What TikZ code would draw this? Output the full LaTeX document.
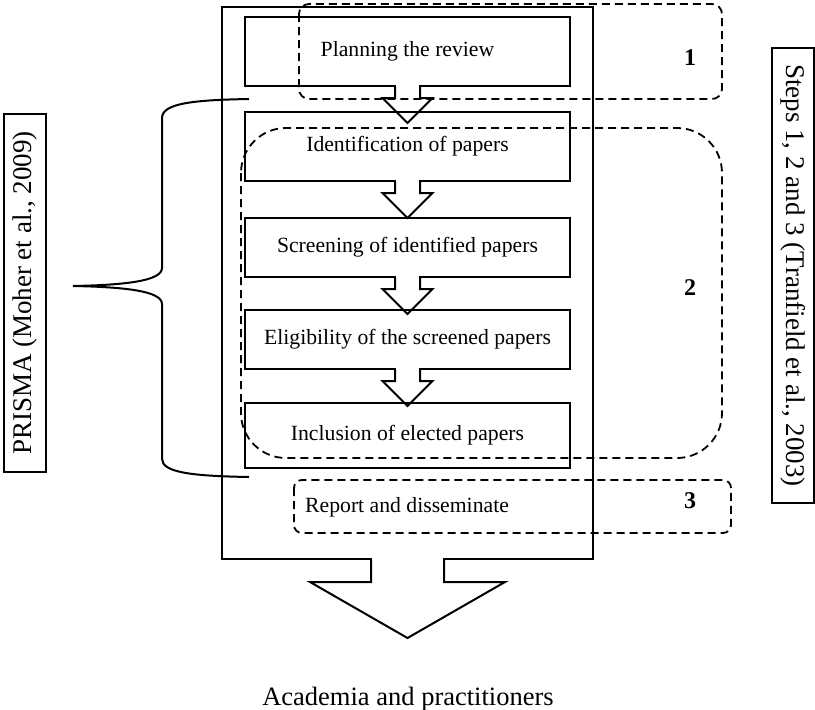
\documentclass[tikz,border=0pt]{standalone}
\usepackage{fontspec}
\setmainfont{Liberation Serif}
\usetikzlibrary{calc}

\tikzset{
  stepbox/.style={draw, line width=2pt, minimum width=325pt, inner sep=0pt, font=\fontsize{21.7}{26}\selectfont},
  group/.style={draw, line width=1.8pt, dash pattern=on 8pt off 5pt},
  sidebox/.style={draw, line width=1.5pt, minimum height=42pt, inner sep=0pt, font=\fontsize{27}{32}\selectfont},
  stepno/.style={inner sep=0pt, font=\fontsize{24}{28}\selectfont\bfseries},
}

\begin{document}
\begin{tikzpicture}[x=1pt, y=-1pt]
\useasboundingbox (0,0) rectangle (815,710);

\node[draw, line width=2pt, minimum width=371pt, minimum height=552pt] (outer) at (407.5,283) {};

\node[stepbox, minimum height=69pt] (plan) at (407.5,51.5) {Planning the review};
\node[stepbox, minimum height=69pt] (ident) at (407.5,146.5) {Identification of papers};
\node[stepbox, minimum height=59pt] (screen) at (407.5,247.5) {Screening of identified papers};
\node[stepbox, minimum height=59pt] (elig) at (407.5,339.5) {Eligibility of the screened papers};
\node[stepbox, minimum height=65pt] (incl) at (407.5,435.5) {Inclusion of elected papers};

% arrows between the steps
\foreach \b in {plan,ident,screen,elig} {
  \fill[white] ($(\b.south)+(-11.5,-2)$) rectangle ($(\b.south)+(11.5,2)$);
  \draw[line width=2pt] ($(\b.south)+(-12.5,0)$) -- ++(0,11) -- ++(-12.5,0) -- ++(25,25) -- ++(25,-25) -- ++(-12.5,0) -- ++(0,-11);
}

% big arrow out
\fill[white] ($(outer.south)+(-35.5,-2)$) rectangle ($(outer.south)+(35.5,2)$);
\draw[line width=2pt] ($(outer.south)+(-36.5,0)$) -- ++(0,22) -- ++(-61,0) -- ++(97.5,56) -- ++(97.5,-56) -- ++(-61,0) -- ++(0,-22);

\node[anchor=base, inner sep=0pt, font=\fontsize{26.5}{30}\selectfont] (target) at (408,705) {Academia and practitioners};

% the three steps
\draw[group, rounded corners=10pt] (299,4) rectangle (722,99);
\draw[group, rounded corners=45pt] (241,128) rectangle (722,458);
\draw[group, rounded corners=8pt] (294,480) rectangle (731,533);

\node[anchor=west, inner sep=0pt, font=\fontsize{21.7}{26}\selectfont] (report) at (305,507) {Report and disseminate};

\node[stepno] (n1) at (690,58) {1};
\node[stepno] (n2) at (690,288) {2};
\node[stepno] (n3) at (690,501) {3};

% brace
\draw[line width=2pt] (249,99) .. controls (195,100) and (162,103) .. (162,118) -- (162,268)
  .. controls (162,281) and (125,285) .. (73,286)
  .. controls (125,287) and (162,291) .. (162,304) -- (162,459)
  .. controls (162,473) and (195,476) .. (249,477);

\node[sidebox, rotate=90, minimum width=358pt] (prisma) at (25,293) {PRISMA (Moher et al., 2009)};
\node[sidebox, rotate=-90, minimum width=455pt] (steps) at (793,275.5) {Steps 1, 2 and 3 (Tranfield et al., 2003)};

\end{tikzpicture}
\end{document}
